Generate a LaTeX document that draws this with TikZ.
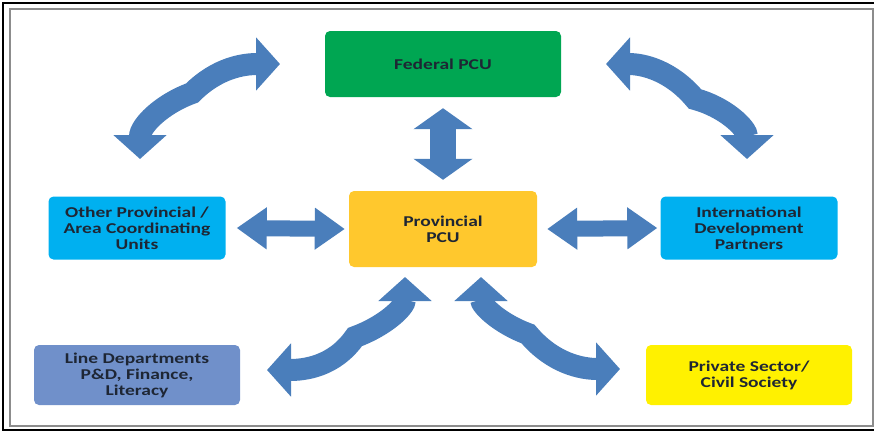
\documentclass[tikz,border=0pt]{standalone}
\usepackage{fontspec}
\setmainfont{Carlito}
\newfontfamily\boxfont[FakeStretch=1.3]{Carlito}
\usetikzlibrary{arrows.meta}

\definecolor{fedgreen}{RGB}{0,166,82}
\definecolor{provorange}{RGB}{255,200,45}
\definecolor{unitcyan}{RGB}{0,176,240}
\definecolor{linedept}{RGB}{112,144,202}
\definecolor{privyellow}{RGB}{255,241,0}
\definecolor{arrowblue}{RGB}{74,126,187}
\definecolor{labeltext}{RGB}{30,38,52}

\begin{document}
\begin{tikzpicture}
		[x=1pt,y=-1pt,
		unit/.style= {rounded corners=5pt,align=center,text=labeltext,
			font=\boxfont\fontsize{15}{16}\selectfont\bfseries,inner sep=0pt},
		federal/.style= {unit,fill=fedgreen,minimum width=236pt,minimum height=66pt},
		provincial/.style= {unit,fill=provorange,minimum width=188pt,minimum height=76pt},
		coord/.style= {unit,fill=unitcyan,minimum width=177pt,minimum height=63pt},
		dept/.style= {unit,fill=linedept,minimum width=206pt,minimum height=60pt},
		private/.style= {unit,fill=privyellow,minimum width=206pt,minimum height=60pt},
		straight/.style={arrowblue,line width=16pt,
			{Triangle[width=40pt,length=30pt]}-{Triangle[width=40pt,length=30pt]}},
		updown/.style={arrowblue,line width=26pt,
			{Triangle[width=58pt,length=21pt]}-{Triangle[width=58pt,length=21pt]}},
		curved/.style={arrowblue,line width=22pt,
			{Triangle[width=52pt,length=24pt]}-{Triangle[width=52pt,length=24pt]}}]

		\useasboundingbox (0,0) rectangle (874,432);
		\draw[line width=2pt] (3,3) rectangle (878,430);
		\draw[black!45,line width=1.2pt] (10,9) rectangle (873,426);

		\node[federal] (fed) at (443,64) {Federal PCU};
		\node[provincial] (prov) at (443,229) {Provincial\\PCU};
		\node[coord] (other) at (137,228) {Other Provincial /\\Area Coordinating\\Units};
		\node[coord] (intl) at (749,228) {International\\Development\\Partners};
		\node[dept] (line) at (137,375) {Line Departments\\P\&D, Finance,\\Literacy};
		\node[private] (priv) at (749,375) {Private Sector/\\Civil Society};

		% straight links
		\draw[updown] ([yshift=-11pt]fed.south) -- ([yshift=11pt]prov.north);
		\draw[straight] ([xshift=11pt]other.east) -- ([xshift=-4pt]prov.west);
		\draw[straight] ([xshift=10pt]prov.east) -- ([xshift=-3pt]intl.west);

		% curved links
		\coordinate (ul-a) at (140,159);
		\coordinate (ul-m) at (192,93);
		\coordinate (ul-b) at (280,64);
		\coordinate (ur-a) at (606,64);
		\coordinate (ur-m) at (695,99);
		\coordinate (ur-b) at (747,159);
		\coordinate (ll-a) at (267,370);
		\coordinate (ll-m) at (355,337);
		\coordinate (ll-b) at (405,277);
		\coordinate (lr-a) at (481,277);
		\coordinate (lr-m) at (528,334);
		\coordinate (lr-b) at (620,369);

		\draw[curved] (ul-a) to[out=90,in=200] (ul-m) to[out=45,in=180] (ul-b);
		\draw[curved] (ur-a) to[out=0,in=130] (ur-m) to[out=-15,in=90] (ur-b);
		\draw[curved] (ll-a) to[out=0,in=235] (ll-m) to[out=20,in=-90] (ll-b);
		\draw[curved] (lr-a) to[out=-90,in=160] (lr-m) to[out=-50,in=180] (lr-b);

	\end{tikzpicture}
\end{document}
